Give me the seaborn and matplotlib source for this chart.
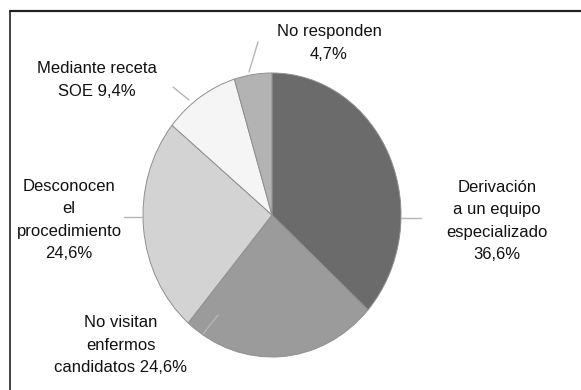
import matplotlib
matplotlib.use("Agg")
import matplotlib.pyplot as plt
import seaborn as sns
from matplotlib.lines import Line2D

# Survey answers: how patients are referred
categories = [
    "Derivación\na un equipo\nespecializado",
    "No visitan\nenfermos\ncandidatos",
    "Desconocen\nel\nprocedimiento",
    "Mediante receta\nSOE",
    "No responden",
]
values = [36.6, 24.6, 24.6, 9.4, 4.7]
value_sep = ["\n", " ", "\n", " ", "\n"]
colors = ["#6b6b6b", "#9b9b9b", "#d3d3d3", "#f5f5f5", "#b3b3b3"]

sns.set_theme(style="white")
plt.rcParams["font.family"] = ["Liberation Sans", "DejaVu Sans"]

W, H = 581, 390
fig = plt.figure(figsize=(W / 100, H / 100), dpi=100)
ax = fig.add_axes([0, 0, 1, 1])

# pixel geometry of the (slightly oval) pie
cx, cy, rx, ry = 272, 215, 129, 142


def px(x, y):
    """Convert figure pixel position to data coordinates of the pie axes."""
    return (x - cx) / rx, (cy - y) / ry


ax.pie(values, colors=colors, startangle=90, counterclock=False, radius=1.0,
       wedgeprops=dict(edgecolor="#8f8f8f", linewidth=0.7))
ax.set_aspect("auto")
ax.set_xlim((0 - cx) / rx, (W - cx) / rx)
ax.set_ylim((cy - H) / ry, cy / ry)
ax.axis("off")

# label text built from the values
labels = [f"{c}{s}{v:.1f}%".replace(".", ",")
          for c, s, v in zip(categories, value_sep, values)]
label_pos = [(497, 221), (121, 345), (69, 220), (97, 80), (329, 43)]
for text, (lx, ly) in zip(labels, label_pos):
    tx, ty = px(lx, ly)
    ax.text(tx, ty, text, ha="center", va="center", fontsize=12,
            color="#111111", linespacing=1.62)

# faint leader lines
leaders = [
    ((401, 218), (421, 218)),
    ((142, 217), (124, 217)),
    ((249, 72), (258, 42)),
    ((189, 100), (173, 87)),
    ((218, 315), (203, 334)),
]
for (x0, y0), (x1, y1) in leaders:
    a = px(x0, y0)
    b = px(x1, y1)
    ax.plot([a[0], b[0]], [a[1], b[1]], color="#b5b5b5", linewidth=1.0)

# frame around the figure (top and left edges)
fig.add_artist(Line2D([10 / W, 1], [1 - 11 / H, 1 - 11 / H],
                      transform=fig.transFigure, color="#222222", linewidth=1.6))
fig.add_artist(Line2D([10 / W, 10 / W], [0, 1 - 11 / H],
                      transform=fig.transFigure, color="#222222", linewidth=1.2))

fig.savefig("out.png", dpi=100, facecolor="white")
